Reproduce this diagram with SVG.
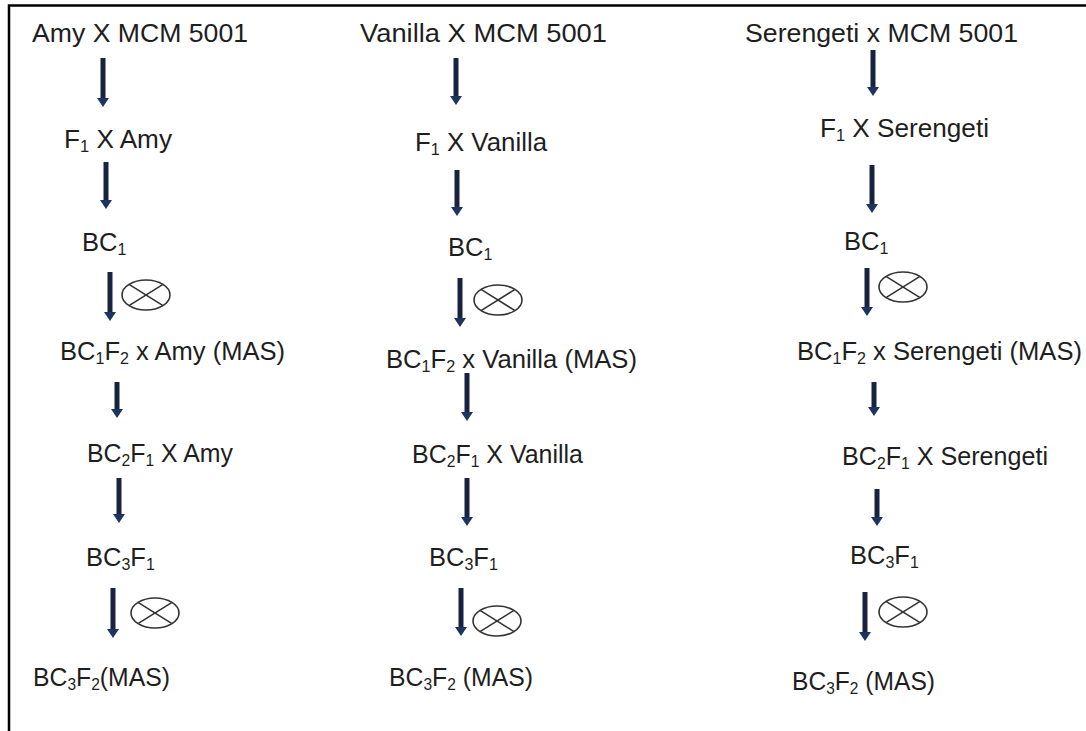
<svg xmlns="http://www.w3.org/2000/svg" width="1086" height="731" viewBox="0 0 1086 731">
<style>
  .t { font-family: "Liberation Sans", Arial, sans-serif; font-size: 25.5px; fill: #1e1e1e; }
  .s { font-size: 16px; }
  .arr { stroke: #17233f; stroke-width: 5; fill: none; }
  .self { fill: none; stroke: #333; stroke-width: 1.6; }
  .frame { stroke: #000; stroke-width: 2.5; fill: none; }
</style>
<defs>
  <marker id="ah" markerUnits="userSpaceOnUse" markerWidth="12" markerHeight="14" refX="0" refY="7" orient="auto" viewBox="0 0 9 14">
    <path d="M0,1 L9,7 L0,13 z" fill="#1d3461"/>
  </marker>
  <g id="selfing">
    <ellipse cx="0" cy="0" rx="24" ry="15" class="self"/>
    <line x1="-17" y1="-10.6" x2="17" y2="10.6" class="self"/>
    <line x1="-17" y1="10.6" x2="17" y2="-10.6" class="self"/>
  </g>
</defs>
<rect width="1086" height="731" fill="#fff"/>
<path class="frame" d="M9,731 V5.5 H1086"/>

<g id="connectors">
  <line class="arr" x1="103" y1="58" x2="103" y2="98" marker-end="url(#ah)"/>
  <line class="arr" x1="106" y1="162" x2="106" y2="200" marker-end="url(#ah)"/>
  <line class="arr" x1="110" y1="272" x2="110" y2="312" marker-end="url(#ah)"/>
  <line class="arr" x1="117" y1="382" x2="117" y2="409" marker-end="url(#ah)"/>
  <line class="arr" x1="119" y1="478" x2="119" y2="514" marker-end="url(#ah)"/>
  <line class="arr" x1="113" y1="588" x2="113" y2="629" marker-end="url(#ah)"/>

  <line class="arr" x1="456" y1="58" x2="456" y2="96" marker-end="url(#ah)"/>
  <line class="arr" x1="457" y1="170" x2="457" y2="207" marker-end="url(#ah)"/>
  <line class="arr" x1="460" y1="278" x2="460" y2="318" marker-end="url(#ah)"/>
  <line class="arr" x1="467" y1="373" x2="467" y2="412" marker-end="url(#ah)"/>
  <line class="arr" x1="467" y1="478" x2="467" y2="517" marker-end="url(#ah)"/>
  <line class="arr" x1="461" y1="588" x2="461" y2="627" marker-end="url(#ah)"/>

  <line class="arr" x1="873" y1="50" x2="873" y2="87" marker-end="url(#ah)"/>
  <line class="arr" x1="872" y1="165" x2="872" y2="204" marker-end="url(#ah)"/>
  <line class="arr" x1="867" y1="268" x2="867" y2="307" marker-end="url(#ah)"/>
  <line class="arr" x1="874" y1="382" x2="874" y2="407" marker-end="url(#ah)"/>
  <line class="arr" x1="877" y1="489" x2="877" y2="517" marker-end="url(#ah)"/>
  <line class="arr" x1="865" y1="592" x2="865" y2="632" marker-end="url(#ah)"/>
</g>

<g id="selfing-marks">
  <use href="#selfing" x="146" y="295"/>
  <use href="#selfing" x="155" y="613"/>
  <use href="#selfing" x="498" y="300"/>
  <use href="#selfing" x="497" y="621"/>
  <use href="#selfing" x="903" y="287"/>
  <use href="#selfing" x="903" y="612"/>
</g>

<g id="amy-cross"><text class="t" x="32" y="42" textLength="216" lengthAdjust="spacingAndGlyphs">Amy X MCM 5001</text></g>
<g id="amy-f1"><text class="t" x="64" y="148" textLength="108" lengthAdjust="spacingAndGlyphs">F<tspan class="s" dy="4">1</tspan><tspan dy="-4"> X Amy</tspan></text></g>
<g id="amy-bc1"><text class="t" x="82" y="251">BC<tspan class="s" dy="4">1</tspan></text></g>
<g id="amy-bc1f2"><text class="t" x="60" y="360" textLength="225" lengthAdjust="spacingAndGlyphs">BC<tspan class="s" dy="4">1</tspan><tspan dy="-4">F</tspan><tspan class="s" dy="4">2</tspan><tspan dy="-4"> x Amy (MAS)</tspan></text></g>
<g id="amy-bc2f1"><text class="t" x="87" y="462" textLength="146" lengthAdjust="spacingAndGlyphs">BC<tspan class="s" dy="4">2</tspan><tspan dy="-4">F</tspan><tspan class="s" dy="4">1</tspan><tspan dy="-4"> X Amy</tspan></text></g>
<g id="amy-bc3f1"><text class="t" x="86" y="566">BC<tspan class="s" dy="4">3</tspan><tspan dy="-4">F</tspan><tspan class="s" dy="4">1</tspan></text></g>
<g id="amy-bc3f2"><text class="t" x="33" y="686" textLength="137" lengthAdjust="spacingAndGlyphs">BC<tspan class="s" dy="4">3</tspan><tspan dy="-4">F</tspan><tspan class="s" dy="4">2</tspan><tspan dy="-4">(MAS)</tspan></text></g>

<g id="vanilla-cross"><text class="t" x="360" y="42" textLength="247" lengthAdjust="spacingAndGlyphs">Vanilla X MCM 5001</text></g>
<g id="vanilla-f1"><text class="t" x="415" y="151" textLength="132" lengthAdjust="spacingAndGlyphs">F<tspan class="s" dy="4">1</tspan><tspan dy="-4"> X Vanilla</tspan></text></g>
<g id="vanilla-bc1"><text class="t" x="448" y="256">BC<tspan class="s" dy="4">1</tspan></text></g>
<g id="vanilla-bc1f2"><text class="t" x="386" y="368" textLength="251" lengthAdjust="spacingAndGlyphs">BC<tspan class="s" dy="4">1</tspan><tspan dy="-4">F</tspan><tspan class="s" dy="4">2</tspan><tspan dy="-4"> x Vanilla (MAS)</tspan></text></g>
<g id="vanilla-bc2f1"><text class="t" x="412" y="463" textLength="171" lengthAdjust="spacingAndGlyphs">BC<tspan class="s" dy="4">2</tspan><tspan dy="-4">F</tspan><tspan class="s" dy="4">1</tspan><tspan dy="-4"> X Vanilla</tspan></text></g>
<g id="vanilla-bc3f1"><text class="t" x="429" y="566">BC<tspan class="s" dy="4">3</tspan><tspan dy="-4">F</tspan><tspan class="s" dy="4">1</tspan></text></g>
<g id="vanilla-bc3f2"><text class="t" x="389" y="686" textLength="144" lengthAdjust="spacingAndGlyphs">BC<tspan class="s" dy="4">3</tspan><tspan dy="-4">F</tspan><tspan class="s" dy="4">2</tspan><tspan dy="-4"> (MAS)</tspan></text></g>

<g id="serengeti-cross"><text class="t" x="745" y="42" textLength="273" lengthAdjust="spacingAndGlyphs">Serengeti x MCM 5001</text></g>
<g id="serengeti-f1"><text class="t" x="820" y="137" textLength="169" lengthAdjust="spacingAndGlyphs">F<tspan class="s" dy="4">1</tspan><tspan dy="-4"> X Serengeti</tspan></text></g>
<g id="serengeti-bc1"><text class="t" x="844" y="250">BC<tspan class="s" dy="4">1</tspan></text></g>
<g id="serengeti-bc1f2"><text class="t" x="797" y="360" textLength="285" lengthAdjust="spacingAndGlyphs">BC<tspan class="s" dy="4">1</tspan><tspan dy="-4">F</tspan><tspan class="s" dy="4">2</tspan><tspan dy="-4"> x Serengeti (MAS)</tspan></text></g>
<g id="serengeti-bc2f1"><text class="t" x="842" y="465" textLength="206" lengthAdjust="spacingAndGlyphs">BC<tspan class="s" dy="4">2</tspan><tspan dy="-4">F</tspan><tspan class="s" dy="4">1</tspan><tspan dy="-4"> X Serengeti</tspan></text></g>
<g id="serengeti-bc3f1"><text class="t" x="850" y="564">BC<tspan class="s" dy="4">3</tspan><tspan dy="-4">F</tspan><tspan class="s" dy="4">1</tspan></text></g>
<g id="serengeti-bc3f2"><text class="t" x="792" y="690" textLength="143" lengthAdjust="spacingAndGlyphs">BC<tspan class="s" dy="4">3</tspan><tspan dy="-4">F</tspan><tspan class="s" dy="4">2</tspan><tspan dy="-4"> (MAS)</tspan></text></g>
</svg>
